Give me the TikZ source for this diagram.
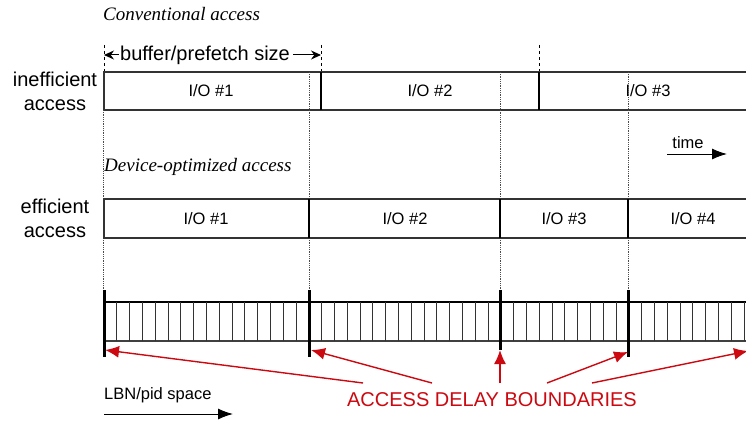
\documentclass[tikz,border=0pt]{standalone}
\usepackage{fontspec}
\setmainfont{Liberation Sans}
\newfontfamily\serifit{Liberation Serif}
\usetikzlibrary{arrows.meta}
\definecolor{delayred}{RGB}{204,8,16}

\begin{document}
\begin{tikzpicture}[x=1pt, y=-1pt, every node/.style={inner sep=0pt},
    big/.style={font=\fontsize{20}{24}\selectfont},
    small/.style={font=\fontsize{16.5}{19}\selectfont},
    heading/.style={font=\serifit\itshape\fontsize{19}{22}\selectfont, anchor=west},
    boxline/.style={line width=1.3pt, draw=black!80},
    divider/.style={line width=2pt},
    guide/.style={densely dotted, line width=0.8pt, draw=black!70},
    boundary/.style={line width=3pt},
    delay/.style={delayred, line width=1.4pt, -{Latex[length=14pt,width=12pt]}}]
  \clip (0,0) rectangle (746,420);

  % conventional access
  \node[heading] (conv) at (103,14) {Conventional access};
  \foreach \x in {104,321,539} \draw[dashed, line width=0.8pt] (\x,45) -- (\x,72);
  \coordinate (bl) at (104,55);
  \coordinate (br) at (321,55);
  \node[big] (buf) at (205,55) {buffer/prefetch size};
  \draw[-{Stealth[length=10pt,width=9pt]}, line width=1pt] (buf.west) ++(-1,0) -- (bl);
  \draw[-{Stealth[length=10pt,width=9pt]}, line width=1pt] (buf.east) ++(3,0) -- (br);
  \draw[boxline] (760,72) -- (104,72) -- (104,110) -- (760,110);
  \foreach \x in {321,539} \draw[divider] (\x,72) -- (\x,110);
  \node[big, align=center] (ineff) at (55,91) {inefficient\\access};
  \node[small] (c1) at (211,91) {I/O \#1};
  \node[small] (c2) at (430,91) {I/O \#2};
  \node[small] (c3) at (648,91) {I/O \#3};

  % guides from the I/O boundaries down to the disk
  \foreach \x in {309,500,628} {
    \draw[guide] (\x,72) -- (\x,199);
    \draw[guide] (\x,238) -- (\x,290);
  }
  \draw[guide] (103,110) -- (103,199);
  \draw[guide] (103,238) -- (103,290);

  % time
  \node[small] (time) at (688,143) {time};
  \coordinate (t0) at (667,154);
  \coordinate (t1) at (727,154);
  \draw[-{Latex[length=15pt,width=11pt]}, line width=1pt] (t0) -- (t1);

  % device-optimized access
  \node[heading] (dev) at (104,167) {Device-optimized access};
  \draw[boxline] (760,199) -- (104,199) -- (104,238) -- (760,238);
  \foreach \x in {309,500,628} \draw[divider] (\x,199) -- (\x,238);
  \node[big, align=center] (eff) at (55,218) {efficient\\access};
  \node[small] (e1) at (206,219) {I/O \#1};
  \node[small] (e2) at (405,219) {I/O \#2};
  \node[small] (e3) at (564,219) {I/O \#3};
  \node[small] (e4) at (693,219) {I/O \#4};

  % LBN space
  \draw[line width=1.3pt] (104,302) -- (760,302);
  \draw[line width=2pt, draw=black!75] (104,341) -- (760,341);
  \foreach \i in {1,...,51} \draw[line width=1pt, draw=black!80] (104+\i*12.8,302) -- ++(0,39);
  \foreach \x/\y in {104/357, 309/357, 500/350, 628/357} \draw[boundary] (\x,290) -- (\x,\y);

  \node[small, anchor=west] (lbn) at (104,395) {LBN/pid space};
  \coordinate (l0) at (104,414);
  \coordinate (l1) at (233,414);
  \draw[-{Latex[length=15pt,width=11pt]}, line width=1pt] (l0) -- (l1);

  % access delay boundaries
  \node[big, text=delayred] (adb) at (492,400) {ACCESS DELAY BOUNDARIES};
  \coordinate (s1) at (363,383); \coordinate (d1) at (105,350);
  \coordinate (s2) at (432,383); \coordinate (d2) at (311,350);
  \coordinate (s3) at (500,383); \coordinate (d3) at (500,350);
  \coordinate (s4) at (547,383); \coordinate (d4) at (628,352);
  \coordinate (s5) at (592,383); \coordinate (d5) at (748,351);
  \foreach \k in {1,...,5} \draw[delay] (s\k) -- (d\k);
\end{tikzpicture}
\end{document}
